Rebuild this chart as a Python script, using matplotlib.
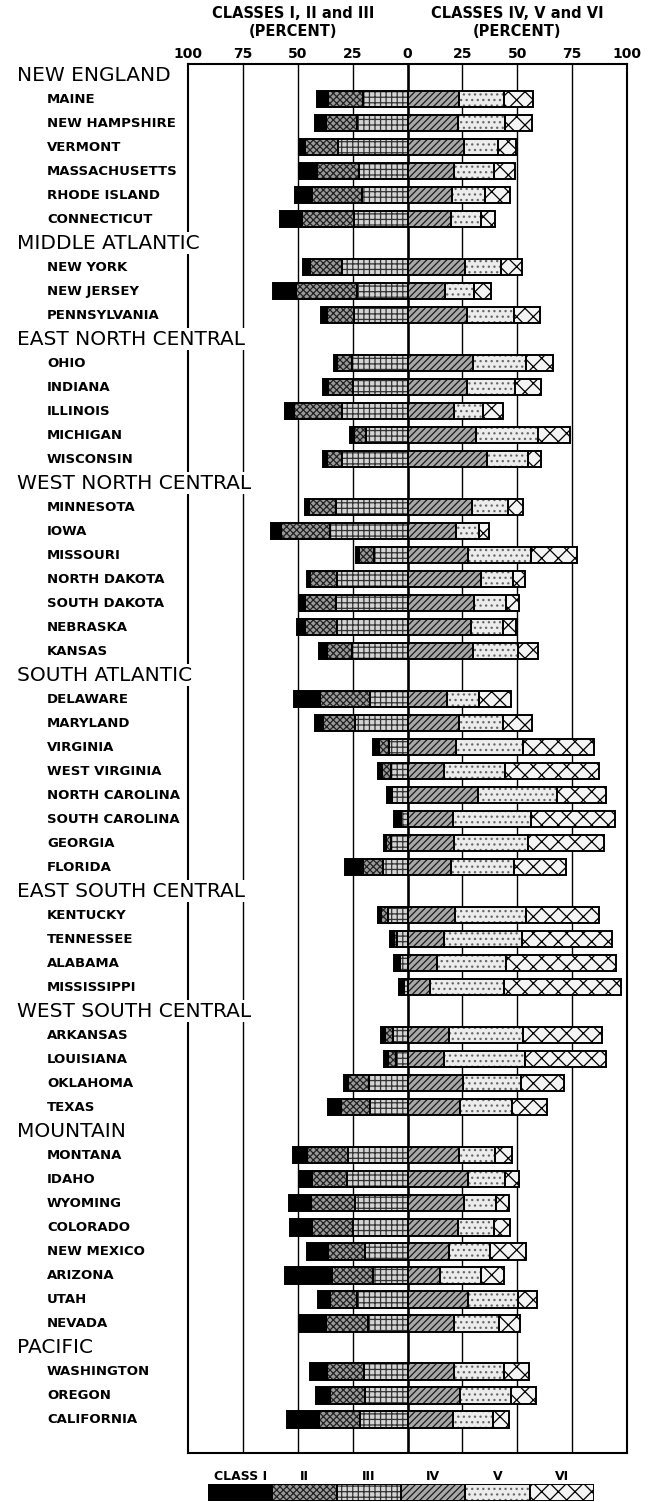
import matplotlib.pyplot as plt
from matplotlib import transforms
import numpy as np

plt.rcParams['font.family'] = 'DejaVu Sans'
plt.rcParams['hatch.linewidth'] = 0.9

regions = ["NEW ENGLAND", "MIDDLE ATLANTIC", "EAST NORTH CENTRAL",
           "WEST NORTH CENTRAL", "SOUTH ATLANTIC", "EAST SOUTH CENTRAL",
           "WEST SOUTH CENTRAL", "MOUNTAIN", "PACIFIC"]
region_sizes = [6, 3, 5, 7, 8, 4, 4, 8, 3]

states = ["MAINE", "NEW HAMPSHIRE", "VERMONT", "MASSACHUSETTS", "RHODE ISLAND", "CONNECTICUT",
          "NEW YORK", "NEW JERSEY", "PENNSYLVANIA",
          "OHIO", "INDIANA", "ILLINOIS", "MICHIGAN", "WISCONSIN",
          "MINNESOTA", "IOWA", "MISSOURI", "NORTH DAKOTA", "SOUTH DAKOTA", "NEBRASKA", "KANSAS",
          "DELAWARE", "MARYLAND", "VIRGINIA", "WEST VIRGINIA", "NORTH CAROLINA",
          "SOUTH CAROLINA", "GEORGIA", "FLORIDA",
          "KENTUCKY", "TENNESSEE", "ALABAMA", "MISSISSIPPI",
          "ARKANSAS", "LOUISIANA", "OKLAHOMA", "TEXAS",
          "MONTANA", "IDAHO", "WYOMING", "COLORADO", "NEW MEXICO", "ARIZONA", "UTAH", "NEVADA",
          "WASHINGTON", "OREGON", "CALIFORNIA"]

# percent of each class, per state (same order as states)
class_1 = [5.3, 4.9, 2.3, 8.1, 7.6, 9.9,
           3.1, 10.2, 2.6,
           1.6, 2.2, 4.3, 1.8, 1.8,
           1.5, 4.2, 1.5, 1.7, 2.9, 3.4, 3.4,
           12.0, 3.8, 2.6, 1.5, 1.8, 2.3, 1.2, 8.0,
           1.2, 1.8, 2.3, 1.5,
           2.0, 2.0, 2.0, 5.7,
           6.2, 5.4, 10.0, 10.0, 9.4, 21.5, 5.5, 12.3,
           8.0, 6.3, 14.2]
class_2 = [15.7, 14.5, 14.9, 19.3, 22.8, 23.6,
           14.7, 28.2, 12.4,
           7.0, 11.5, 21.8, 5.4, 6.9,
           12.3, 22.3, 6.8, 12.2, 13.8, 14.6, 11.5,
           22.6, 14.5, 4.8, 4.3, 0.5, 0.8, 2.2, 9.4,
           3.4, 1.5, 0.5, 0.5,
           3.7, 3.4, 9.5, 13.2,
           18.9, 15.8, 20.0, 18.6, 16.9, 18.5, 12.2, 18.8,
           16.9, 16.2, 18.8]
class_3 = [20.4, 22.8, 31.8, 22.1, 20.9, 24.4,
           29.8, 22.8, 24.3,
           25.1, 24.8, 29.7, 18.9, 29.7,
           32.8, 35.5, 15.1, 32.0, 32.8, 32.3, 25.4,
           17.2, 23.8, 8.3, 7.5, 7.0, 3.1, 7.4, 11.1,
           8.9, 4.6, 3.3, 1.8,
           6.6, 5.4, 17.4, 17.2,
           26.9, 27.7, 23.8, 24.9, 19.5, 15.8, 23.2, 18.2,
           19.7, 19.2, 21.7]
class_4 = [23.3, 23.0, 25.6, 21.3, 20.5, 19.9,
           26.0, 17.2, 27.3,
           29.9, 27.2, 21.1, 31.1, 36.2,
           29.2, 22.2, 27.7, 33.4, 30.3, 28.8, 29.7,
           17.8, 23.5, 22.0, 16.6, 32.0, 20.8, 21.1, 20.0,
           21.5, 16.6, 13.5, 10.3,
           18.8, 16.5, 25.4, 23.8,
           23.5, 27.4, 25.7, 23.1, 18.9, 14.9, 27.7, 21.4,
           21.4, 23.7, 20.8]
class_5 = [20.5, 21.3, 15.5, 18.0, 14.6, 13.7,
           16.6, 13.2, 21.2,
           24.0, 22.0, 13.5, 28.5, 18.8,
           16.5, 10.2, 28.5, 14.8, 14.8, 14.8, 20.8,
           14.6, 20.0, 30.8, 27.7, 36.0, 35.4, 34.0, 28.5,
           32.6, 35.4, 31.4, 33.5,
           34.0, 37.1, 26.2, 23.8,
           16.5, 16.8, 14.8, 16.2, 18.5, 18.8, 22.6, 20.5,
           22.5, 23.5, 18.0]
class_6 = [13.4, 12.2, 8.5, 9.9, 11.7, 6.4,
           9.5, 7.8, 11.9,
           12.4, 11.4, 8.8, 14.3, 5.7,
           6.9, 4.9, 21.2, 5.4, 5.7, 5.7, 8.8,
           14.9, 13.1, 32.3, 43.1, 22.3, 38.5, 34.5, 23.5,
           33.2, 41.1, 50.2, 53.4,
           35.7, 36.9, 19.7, 15.8,
           7.7, 6.6, 5.7, 7.4, 16.5, 10.2, 8.9, 9.2,
           11.4, 11.2, 7.4]

legend_labels = ["CLASS I", "II", "III", "IV", "V", "VI"]
ticks = [-100, -75, -50, -25, 0, 25, 50, 75, 100]

# fill colour, hatch, hatch colour per class
styles = [("black", None, "black"),
          ("#9a9a9a", "xxxxx", "#222222"),
          ("#d4d4d4", "+++", "#333333"),
          ("#a8a8a8", "/////", "#1a1a1a"),
          ("#ececec", "...", "#666666"),
          ("#f4f4f4", "xx", "black")]

# slot positions: header row, then one row per state
header_y = []
state_y = []
slot = 0
for n in region_sizes:
    header_y.append(slot)
    slot += 1
    for i in range(n):
        state_y.append(slot)
        slot += 1
state_y = np.array(state_y)

fig = plt.figure(figsize=(6.56, 15.02), dpi=100)
ax = fig.add_axes([188 / 656, 1 - 1453 / 1502, 439 / 656, (1453 - 64) / 1502])

h = 0.68
c = [np.array(v) for v in (class_1, class_2, class_3, class_4, class_5, class_6)]
lefts = [-(c[0] + c[1] + c[2]), -(c[1] + c[2]), -c[2], 0 * c[3], c[3], c[3] + c[4]]


def draw_seg(axis, y, left, width, k, height):
    face, hatch, hcol = styles[k]
    axis.barh(y, width, left=left, height=height, color=face, hatch=hatch,
              edgecolor=hcol, linewidth=0, zorder=2)
    axis.barh(y, width, left=left, height=height, fill=False,
              edgecolor="black", linewidth=1.4, zorder=3)


for k in range(6):
    draw_seg(ax, state_y, lefts[k], c[k], k, h)

for t in ticks[1:-1]:
    ax.axvline(t, color="black", lw=1.9 if t == 0 else 1.0, zorder=1)

ax.set_xlim(-100, 100)
ax.set_ylim(57.4, -0.46)
ax.set_yticks([])
ax.xaxis.tick_top()
ax.set_xticks(ticks)
ax.set_xticklabels([str(abs(t)) for t in ticks], fontsize=10, fontweight="bold")
ax.tick_params(axis="x", length=0, pad=2)
for s in ax.spines.values():
    s.set_linewidth(1.5)

lab = transforms.blended_transform_factory(fig.transFigure, ax.transData)
for name, y in zip(regions, header_y):
    ax.text(17 / 656, y, name, transform=lab, fontsize=14.5, va="center", ha="left",
            zorder=10, clip_on=False,
            bbox=dict(facecolor="white", edgecolor="none", pad=1))
for name, y in zip(states, state_y):
    ax.text(47 / 656, y, name, transform=lab, fontsize=9.5, fontweight="bold",
            va="center", ha="left", clip_on=False)

top = transforms.blended_transform_factory(ax.transData, fig.transFigure)
ax.text(-52, 1 - 14 / 1502, "CLASSES I, II and III", transform=top, ha="center",
        va="center", fontsize=10.5, fontweight="bold")
ax.text(-52, 1 - 32 / 1502, "(PERCENT)", transform=top, ha="center", va="center",
        fontsize=10.5, fontweight="bold")
ax.text(50, 1 - 14 / 1502, "CLASSES IV, V and VI", transform=top, ha="center",
        va="center", fontsize=10.5, fontweight="bold")
ax.text(50, 1 - 32 / 1502, "(PERCENT)", transform=top, ha="center", va="center",
        fontsize=10.5, fontweight="bold")

# legend strip
lax = fig.add_axes([208 / 656, 1 / 1502, (594 - 208) / 656, 17 / 1502])
for k in range(6):
    draw_seg(lax, [0], [k], [1], k, 1)
lax.set_xlim(0, 6)
lax.set_ylim(-0.5, 0.5)
lax.axis("off")
ltr = transforms.blended_transform_factory(lax.transData, fig.transFigure)
for k, name in enumerate(legend_labels):
    lax.text(k + 0.5, 1 - 1476 / 1502, name, transform=ltr, ha="center", va="center",
             fontsize=9, fontweight="bold")

fig.savefig("out.png", dpi=100)
